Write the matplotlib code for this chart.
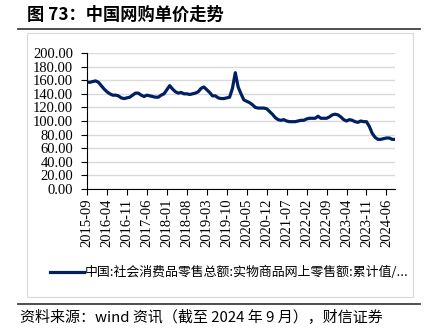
import matplotlib
matplotlib.use("Agg")
import matplotlib.pyplot as plt
import numpy as np
import pandas as pd
from matplotlib.patches import Rectangle
from matplotlib.lines import Line2D

plt.rcParams['font.family'] = ['Noto Sans CJK SC', 'DejaVu Sans']

# monthly, 2015-09 .. 2024-09 (yuan per order)
dates = pd.date_range("2015-09-01", "2024-09-01", freq="MS")
price = [157, 157, 158, 159, 157, 152, 147, 143, 140, 138,
         138, 137, 134, 133, 134, 135, 138, 141, 141, 138,
         136, 138, 137, 136, 135, 135, 138, 140, 146, 152,
         147, 143, 141, 142, 140, 140, 139, 140, 141, 143,
         148, 150, 146, 142, 137, 137, 134, 133, 133, 134,
         135, 148, 171, 150, 140, 131, 129, 127, 124, 120,
         119, 119, 119, 118, 114, 110, 105, 102, 101, 102,
         100, 99, 99, 99, 100, 101, 101, 103, 104, 104,
         104, 107, 104, 104, 104, 106, 109, 110, 109, 106,
         102, 100, 102, 101, 99, 98, 100, 99, 99, 92,
         82, 76, 73, 73, 74, 75, 75, 73, 73]
labels = [d.strftime("%Y-%m") for d in dates]
yticks = np.arange(0, 201, 20)

fig = plt.figure(figsize=(4.32, 3.29), dpi=100)
ax = fig.add_axes([87 / 432, 1 - 189 / 329, 308 / 432, 136 / 329])

x = np.arange(len(price))
ax.plot(x, price, color="#002060", lw=2.3, solid_capstyle="round", solid_joinstyle="round")

ax.set_xlim(0, len(price) - 1)
ax.set_ylim(0, 200)
ax.set_yticks(yticks)
ax.set_yticklabels(["%.2f" % v for v in yticks], fontfamily="Liberation Serif", fontsize=10.5)
tick_pos = x[::7]
ax.set_xticks(tick_pos)
ax.set_xticklabels([labels[i] for i in tick_pos], rotation=90,
                   fontfamily="Liberation Serif", fontsize=10.5)
ax.grid(axis="y", color="#d9d9d9", lw=1)
ax.set_axisbelow(True)
for s in ["top", "right"]:
    ax.spines[s].set_visible(False)
ax.spines["left"].set_color("black")
ax.spines["bottom"].set_color("black")
ax.tick_params(axis="both", direction="out", length=4, width=0.8)
ax.tick_params(axis="y", pad=6)
ax.tick_params(axis="x", pad=3)

# chart frame
fig.patches.append(Rectangle((27 / 432, 1 - 297 / 329), 386 / 432, 264 / 329,
                             transform=fig.transFigure, fill=False,
                             edgecolor="#d9d9d9", lw=0.8))

# legend
ly = 1 - 272 / 329
fig.lines.append(Line2D([50 / 432, 84 / 432], [ly, ly], transform=fig.transFigure,
                        color="#002060", lw=2.3))
fig.text(85 / 432, ly, "中国:社会消费品零售总额:实物商品网上零售额:累计值/...",
         fontsize=9.3, va="center", ha="left")

# title and rules
fig.text(27 / 432, 1 - 15 / 329, "图 73：中国网购单价走势", fontsize=12.4,
         fontweight="bold", va="center", ha="left")
fig.lines.append(Line2D([18 / 432, 420 / 432], [1 - 29 / 329, 1 - 29 / 329],
                        transform=fig.transFigure, color="#404040", lw=1.3))
fig.lines.append(Line2D([18 / 432, 420 / 432], [1 - 304 / 329, 1 - 304 / 329],
                        transform=fig.transFigure, color="#404040", lw=1.3))
fig.text(20 / 432, 1 - 318 / 329, "资料来源：wind 资讯（截至 2024 年 9 月），财信证券",
         fontsize=10.8, style="italic", va="center", ha="left")

fig.savefig("out.png", dpi=100)
